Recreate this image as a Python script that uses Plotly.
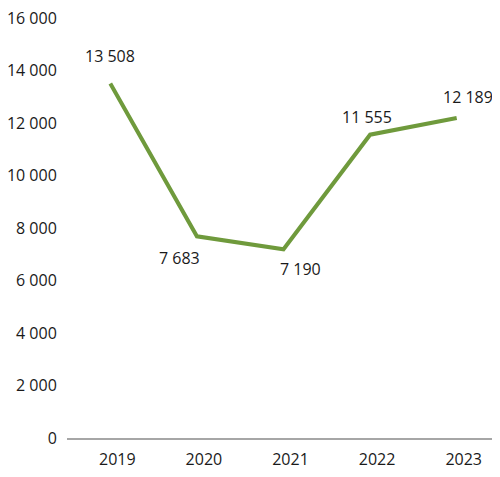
import plotly.graph_objects as go

years = ['2019', '2020', '2021', '2022', '2023']
values = [13508, 7683, 7190, 11555, 12189]
value_labels = ['13 508', '7 683', '7 190', '11 555', '12 189']
y_ticks = [0, 2000, 4000, 6000, 8000, 10000, 12000, 14000, 16000]
y_tick_labels = ['0', '2 000', '4 000', '6 000', '8 000', '10 000', '12 000', '14 000', '16 000']

green = '#6f9a3c'
font = dict(family='Open Sans', size=16, color='#1a1a1a')

fig = go.Figure()
fig.add_trace(go.Scatter(x=years, y=values, mode='lines',
                         line=dict(color=green, width=4), hoverinfo='skip'))

# label offsets (px) per point; x given as category index
shifts = [(0, 27), (-17, -22), (17, -20), (-3, 18), (11, 21)]
for i, (v, lab, (dx, dy)) in enumerate(zip(values, value_labels, shifts)):
    fig.add_annotation(x=i, y=v, text=lab, showarrow=False,
                       xshift=dx, yshift=dy, font=font)

fig.update_xaxes(type='category', range=[-0.5, len(years) - 0.5],
                 showgrid=False, showline=True, automargin=False,
                 linecolor='#a6a6a6', linewidth=2,
                 ticks='outside', ticklen=6, tickcolor='rgba(0,0,0,0)',
                 tickfont=font, ticklabelshift=7, zeroline=False)
fig.update_yaxes(range=[0, 16000], tickvals=y_ticks, ticktext=y_tick_labels,
                 showgrid=False, zeroline=False, showline=False, automargin=False,
                 tickfont=font, ticks='outside', ticklen=6, tickcolor='rgba(0,0,0,0)',
                 ticklabeloverflow='allow')

# page has 8px body margin, so the figure is sized to fit inside 500x477
fig.update_layout(width=492, height=461, plot_bgcolor='white', paper_bgcolor='white',
                  margin=dict(l=59, r=0, t=10, b=31), showlegend=False)

fig.write_html("out.html")
